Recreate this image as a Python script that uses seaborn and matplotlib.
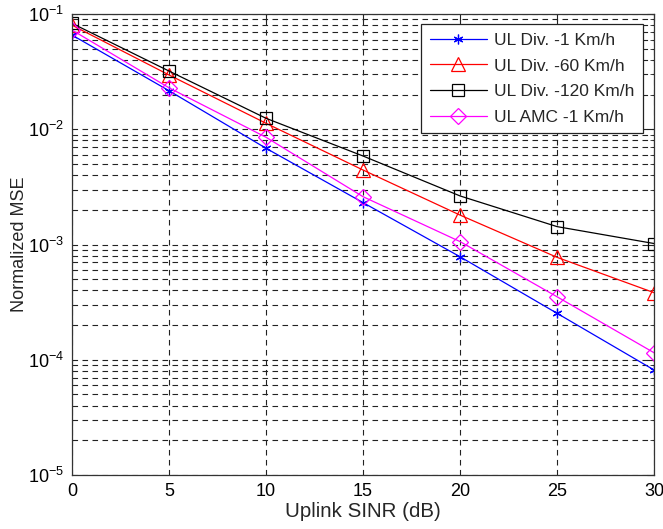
import numpy as np
import pandas as pd
import matplotlib
matplotlib.use("Agg")
import matplotlib.pyplot as plt
import seaborn as sns
from matplotlib.ticker import LogLocator, FixedLocator, NullFormatter

# Uplink SINR operating points (dB)
sinr_db = [0, 5, 10, 15, 20, 25, 30]

# Normalized MSE for each scheme
mse_div_1 = [0.0657, 0.0216, 0.00684, 0.00231, 0.000783, 0.000253, 0.0000815]
mse_div_60 = [0.0800, 0.0296, 0.01127, 0.00443, 0.00180, 0.000774, 0.000382]
mse_div_120 = [0.0830, 0.0320, 0.01245, 0.00586, 0.00264, 0.00143, 0.00102]
mse_amc_1 = [0.0726, 0.0229, 0.00852, 0.00260, 0.00106, 0.000352, 0.000115]

series_names = ["UL Div. -1 Km/h", "UL Div. -60 Km/h", "UL Div. -120 Km/h", "UL AMC -1 Km/h"]
series_values = [mse_div_1, mse_div_60, mse_div_120, mse_amc_1]
colors = ["#0000ff", "#ff0000", "#000000", "#ff00ff"]
markers = [(6, 2, 0), "^", "s", "D"]
marker_sizes = [7, 10, 9, 8]

sns.set_theme(style="white")
plt.rcParams["font.family"] = ["Liberation Sans", "DejaVu Sans"]
plt.rcParams["mathtext.fontset"] = "custom"
plt.rcParams["mathtext.rm"] = "Liberation Sans"
plt.rcParams["mathtext.it"] = "Liberation Sans"

fig = plt.figure(figsize=(6.63, 5.29), dpi=100)
ax = fig.add_axes([0.1086, 0.102, 0.878, 0.8715])

for name, vals, c, m, ms in zip(series_names, series_values, colors, markers, marker_sizes):
    df = pd.DataFrame({"sinr": sinr_db, "mse": vals})
    sns.lineplot(data=df, x="sinr", y="mse", ax=ax, color=c, marker=m,
                 markersize=ms, markerfacecolor="none", markeredgecolor=c,
                 markeredgewidth=0.9, linewidth=0.9, label=name)

ax.set_yscale("log")
ax.set_xlim(0, 30)
ax.set_ylim(1e-5, 1e-1)
ax.xaxis.set_major_locator(FixedLocator(sinr_db))
ax.yaxis.set_major_locator(LogLocator(base=10, numticks=10))
ax.yaxis.set_minor_locator(LogLocator(base=10, subs=np.arange(2, 10), numticks=20))
ax.yaxis.set_minor_formatter(NullFormatter())

grid_kw = dict(color="#222222", linestyle=(0, (5, 4)), linewidth=0.8)
ax.grid(True, which="major", axis="both", **grid_kw)
ax.grid(True, which="minor", axis="y", **grid_kw)
ax.set_axisbelow(True)

for side in ["top", "right", "bottom", "left"]:
    ax.spines[side].set_visible(True)
    ax.spines[side].set_color("#333333")
    ax.spines[side].set_linewidth(0.9)

ax.tick_params(axis="both", which="major", direction="in", length=5, width=0.8,
               top=True, right=True, labelsize=13, colors="#222222", pad=6)
ax.tick_params(axis="y", which="minor", direction="in", length=3, width=0.6,
               left=True, right=True)
for lbl in ax.get_xticklabels() + ax.get_yticklabels():
    lbl.set_color("black")

ax.set_xlabel("Uplink SINR (dB)", fontsize=14.8, labelpad=1)
ax.set_ylabel("Normalized MSE", fontsize=13, labelpad=0)

leg = ax.legend(loc="upper right", bbox_to_anchor=(0.981, 0.978), borderaxespad=0,
                fontsize=12.5, frameon=True, fancybox=False, framealpha=1,
                edgecolor="#222222", handlelength=3.3, borderpad=0.5,
                labelspacing=0.6, handletextpad=0.4)
leg.get_frame().set_linewidth(0.9)

fig.savefig("out.png", dpi=100)
